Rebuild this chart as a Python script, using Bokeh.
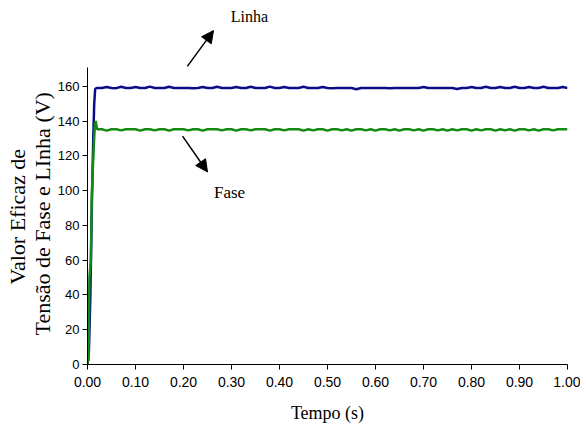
from bokeh.plotting import figure
from bokeh.models import Range1d, Arrow, NormalHead, Label, FixedTicker, Title
from bokeh.embed import file_html
from bokeh.resources import INLINE

# ---- data ----
linha_t = [0.000, 0.003, 0.006, 0.009, 0.012, 0.014, 0.016,
           0.02, 0.03, 0.04, 0.05, 0.06, 0.07, 0.08, 0.09, 0.10, 0.11, 0.12, 0.13, 0.14, 0.15,
           0.16, 0.17, 0.18, 0.19, 0.20, 0.21, 0.22, 0.23, 0.24, 0.25, 0.26, 0.27, 0.28, 0.29,
           0.30, 0.31, 0.32, 0.33, 0.34, 0.35, 0.36, 0.37, 0.38, 0.39, 0.40, 0.41, 0.42, 0.43,
           0.44, 0.45, 0.46, 0.47, 0.48, 0.49, 0.50, 0.51, 0.52, 0.53, 0.54, 0.55, 0.56, 0.57,
           0.58, 0.59, 0.60, 0.61, 0.62, 0.63, 0.64, 0.65, 0.66, 0.67, 0.68, 0.69, 0.70, 0.71,
           0.72, 0.73, 0.74, 0.75, 0.76, 0.77, 0.78, 0.79, 0.80, 0.81, 0.82, 0.83, 0.84, 0.85,
           0.86, 0.87, 0.88, 0.89, 0.90, 0.91, 0.92, 0.93, 0.94, 0.95, 0.96, 0.97, 0.98, 0.99, 1.00]
linha_v = [0, 8, 40, 90, 130, 150, 158.5,
           159.0, 159.0, 159.6, 159.0, 158.9, 159.7, 159.0, 159.0, 159.6, 159.0, 159.0, 159.8, 159.0, 159.0,
           159.0, 159.7, 159.0, 159.0, 159.0, 159.0, 158.9, 159.0, 159.6, 159.0, 159.0, 159.7, 159.0, 159.0,
           159.0, 159.6, 159.0, 159.0, 159.7, 159.0, 159.0, 159.0, 159.8, 159.0, 159.0, 159.6, 159.0, 159.0,
           159.0, 159.7, 159.0, 159.0, 159.0, 159.6, 159.0, 158.9, 159.0, 159.0, 159.0, 159.0, 158.3, 159.0,
           159.0, 159.0, 159.0, 159.0, 159.0, 158.9, 159.0, 159.0, 159.0, 159.0, 159.0, 159.0, 159.6, 159.0,
           159.0, 159.0, 159.0, 159.0, 159.0, 158.4, 159.0, 159.0, 159.6, 159.0, 159.0, 159.7, 159.0, 159.0,
           159.6, 159.0, 159.0, 159.7, 159.0, 159.0, 159.6, 159.0, 159.0, 159.7, 159.0, 159.0, 159.0, 159.6, 159.0]

fase_t = [0.000, 0.001, 0.002, 0.004, 0.007, 0.009, 0.011, 0.013, 0.015, 0.017,
          0.02, 0.03, 0.04, 0.05, 0.06, 0.07, 0.08, 0.09, 0.10, 0.11, 0.12, 0.13, 0.14, 0.15,
          0.16, 0.17, 0.18, 0.19, 0.20, 0.21, 0.22, 0.23, 0.24, 0.25, 0.26, 0.27, 0.28, 0.29,
          0.30, 0.31, 0.32, 0.33, 0.34, 0.35, 0.36, 0.37, 0.38, 0.39, 0.40, 0.41, 0.42, 0.43,
          0.44, 0.45, 0.46, 0.47, 0.48, 0.49, 0.50, 0.51, 0.52, 0.53, 0.54, 0.55, 0.56, 0.57,
          0.58, 0.59, 0.60, 0.61, 0.62, 0.63, 0.64, 0.65, 0.66, 0.67, 0.68, 0.69, 0.70, 0.71,
          0.72, 0.73, 0.74, 0.75, 0.76, 0.77, 0.78, 0.79, 0.80, 0.81, 0.82, 0.83, 0.84, 0.85,
          0.86, 0.87, 0.88, 0.89, 0.90, 0.91, 0.92, 0.93, 0.94, 0.95, 0.96, 0.97, 0.98, 0.99, 1.00]
fase_v = [0, 15, 2, 50, 60, 98, 112, 125, 136, 140,
          135.3, 135.3, 134.5, 135.3, 135.3, 134.6, 135.3, 135.3, 135.3, 134.5, 135.3, 135.3, 134.6, 135.3,
          135.3, 134.5, 135.3, 135.3, 135.3, 134.6, 135.3, 135.3, 134.5, 135.3, 135.3, 135.3, 134.6, 135.3,
          135.3, 134.5, 135.3, 135.3, 134.6, 135.3, 135.3, 135.3, 134.5, 135.3, 135.3, 134.6, 135.3, 135.3,
          135.3, 134.5, 135.3, 134.6, 135.3, 135.3, 134.5, 135.3, 135.3, 134.6, 135.3, 134.5, 135.3, 135.3,
          134.6, 135.3, 134.5, 135.3, 135.3, 134.6, 135.3, 134.5, 135.3, 135.3, 134.6, 135.3, 134.5, 135.3,
          135.3, 134.6, 135.3, 134.5, 135.3, 134.6, 135.3, 135.3, 134.5, 135.3, 134.6, 135.3, 135.3, 134.5,
          135.3, 134.6, 135.3, 134.5, 135.3, 135.3, 134.6, 135.3, 134.5, 135.3, 135.3, 134.6, 135.3, 135.3, 135.3]

x_ticks = [0.0, 0.1, 0.2, 0.3, 0.4, 0.5, 0.6, 0.7, 0.8, 0.9, 1.0]
y_ticks = [0, 20, 40, 60, 80, 100, 120, 140, 160]

p = figure(width=580, height=425, output_backend="svg", toolbar_location=None,
           x_range=Range1d(0, 1.0), y_range=Range1d(0, 204.7),
           min_border_left=87, min_border_right=13, min_border_top=8, min_border_bottom=60)
p.outline_line_color = None
p.xgrid.visible = False
p.ygrid.visible = False
p.background_fill_color = "white"

p.line(linha_t, linha_v, line_color="#0c0c88", line_width=2.5)
p.line(fase_t, fase_v, line_color="#138a13", line_width=2.5)

for ax in (p.xaxis[0], p.yaxis[0]):
    ax.major_label_text_font = "Liberation Sans"
    ax.major_label_text_font_size = "14px"
    ax.major_label_text_color = "black"
    ax.axis_line_color = "black"
    ax.major_tick_line_color = "black"
    ax.minor_tick_line_color = None
    ax.major_tick_out = 5
    ax.major_tick_in = 0
    ax.axis_label_text_font = "Liberation Serif"
    ax.axis_label_text_font_style = "normal"
    ax.axis_label_text_color = "black"

p.xaxis.ticker = FixedTicker(ticks=x_ticks)
p.xaxis.major_label_overrides = {t: f"{t:.2f}" for t in x_ticks}
p.xaxis.major_label_standoff = 7
p.yaxis.ticker = FixedTicker(ticks=y_ticks)
p.yaxis.major_label_text_font_size = "13px"
p.yaxis.major_label_standoff = 3
p.yaxis.bounds = (0, 171)
p.xaxis.axis_label = "Tempo (s)"
p.xaxis.axis_label_text_font_size = "18px"
p.xaxis.axis_label_standoff = 13

# two-line y axis title as side titles (inner line first)
ttl = dict(text_font="Liberation Serif", text_font_size="22px", text_font_style="normal",
           text_color="black", align="left")
p.add_layout(Title(text="Tensão de Fase e LInha (V)", offset=29, standoff=0, **ttl), "left")
p.add_layout(Title(text="Valor Eficaz de", offset=80, standoff=-5, **ttl), "left")

# annotations
head = dict(size=12, fill_color="black", line_color="black")
p.add_layout(Arrow(end=NormalHead(**head), x_start=0.208, y_start=171.4,
                   x_end=0.2625, y_end=192, line_width=1.5, line_color="black"))
p.add_layout(Arrow(end=NormalHead(**head), x_start=0.198, y_start=131.3,
                   x_end=0.25, y_end=110.7, line_width=1.5, line_color="black"))
p.add_layout(Label(x=0.3375, y=200, text="Linha", text_font="Liberation Serif", text_color="black",
                   text_font_size="16px", text_align="center", text_baseline="middle"))
p.add_layout(Label(x=0.296, y=99, text="Fase", text_font="Liberation Serif", text_color="black",
                   text_font_size="17px", text_align="center", text_baseline="middle"))

open("out.html", "w").write(file_html(p, INLINE))
